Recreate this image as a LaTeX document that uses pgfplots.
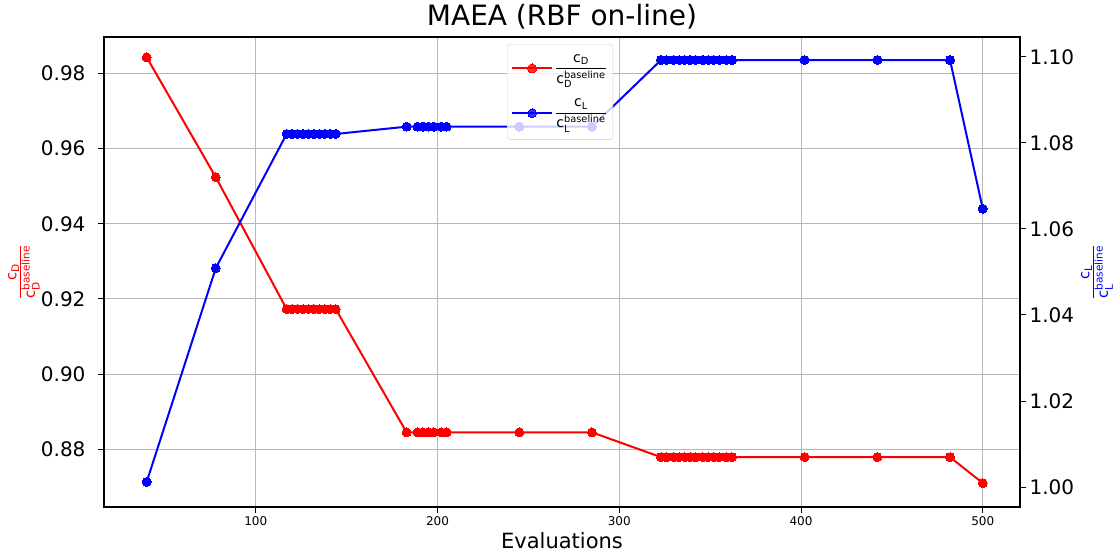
\documentclass[border=0pt]{standalone}
\usepackage{pgfplots}
\pgfplotsset{compat=1.18}
\usepackage{pgfplotstable}
\usepackage{amsmath}
\usepackage{fontspec}
\setmainfont{DejaVu Sans}

\pgfplotstableread{
x y
40 0.9843
78 0.9524
117 0.9173
120 0.9173
123 0.9173
126 0.9173
129 0.9173
132 0.9173
135 0.9173
138 0.9173
141 0.9173
144 0.9173
183 0.8845
189 0.8845
192 0.8845
195 0.8845
198 0.8845
202 0.8845
205 0.8845
245 0.8845
285 0.8845
323 0.8779
326 0.8779
330 0.8779
333 0.8779
336 0.8779
339 0.8779
342 0.8779
346 0.8779
349 0.8779
352 0.8779
355 0.8779
359 0.8779
362 0.8779
402 0.8779
442 0.8779
482 0.8779
500 0.8710
}\cdtable

\pgfplotstableread{
x y
40 1.0012
78 1.0509
117 1.0821
120 1.0821
123 1.0821
126 1.0821
129 1.0821
132 1.0821
135 1.0821
138 1.0821
141 1.0821
144 1.0821
183 1.0838
189 1.0838
192 1.0838
195 1.0838
198 1.0838
202 1.0838
205 1.0838
245 1.0838
285 1.0838
323 1.0993
326 1.0993
330 1.0993
333 1.0993
336 1.0993
339 1.0993
342 1.0993
346 1.0993
349 1.0993
352 1.0993
355 1.0993
359 1.0993
362 1.0993
402 1.0993
442 1.0993
482 1.0993
500 1.0647
}\cltable

\pgfplotsset{
  common/.style={
    width=916pt, height=470pt, scale only axis,
    xmin=16.5, xmax=520.5,
    tick align=outside,
    major tick length=6pt,
    every tick/.style={black, line width=1pt},
    /pgf/number format/assume math mode=true,
    axis line style={line width=1.1pt},
  },
}

\begin{document}
\begin{tikzpicture}
\begin{axis}[
  common,
  ymin=0.86464, ymax=0.9897,
  xtick={100,200,300,400,500},
  ytick={0.88,0.90,0.92,0.94,0.96,0.98},
  yticklabel style={/pgf/number format/fixed, /pgf/number format/fixed zerofill, /pgf/number format/precision=2, font=\fontsize{20}{24}\selectfont, xshift=-9pt},
  xticklabel style={font=\fontsize{12}{14}\selectfont},
  xtick pos=lower, ytick pos=left,
  grid=major,
  major grid style={color=black!28, line width=0.9pt},
  title={MAEA (RBF on-line)},
  title style={at={(axis description cs:0.5,1)}, anchor=base, yshift=5pt, font=\fontsize{28}{33}\selectfont},
  xlabel={Evaluations},
  every axis x label/.style={at={(axis description cs:0.5,0)}, anchor=base, yshift=-41pt, font=\fontsize{21}{25}\selectfont},
  ylabel={$\frac{\text{c}_{\text{D}}}{\text{c}_{\text{D}}^{\text{baseline}}}$},
  every axis y label/.style={at={([xshift=-80pt]axis description cs:0,0.5)}, rotate=90, anchor=center, red, font=\fontsize{21}{25}\selectfont},
]
\addplot[red, line width=2pt, mark=*, mark size=4.5pt, mark options={fill=red, draw=red, line width=0pt}] table[x=x,y=y] {\cdtable};
\end{axis}
\begin{axis}[
  common,
  ymin=0.99535, ymax=1.10465,
  axis x line=none,
  axis y line*=right,
  ytick={1.00,1.02,1.04,1.06,1.08,1.10},
  yticklabel style={/pgf/number format/fixed, /pgf/number format/fixed zerofill, /pgf/number format/precision=2, font=\fontsize{20}{24}\selectfont},
  ylabel={$\frac{\text{c}_{\text{L}}}{\text{c}_{\text{L}}^{\text{baseline}}}$},
  every axis y label/.style={at={([xshift=77pt]axis description cs:1,0.5)}, rotate=90, anchor=center, blue, font=\fontsize{21}{25}\selectfont},
  legend style={at={(0.44,0.985)}, anchor=north west, draw=black!20, rounded corners=3pt, fill=white, fill opacity=0.8, text opacity=1, font=\fontsize{14}{17}\selectfont, row sep=0pt, inner xsep=4pt, inner ysep=3pt, nodes={text depth=, inner sep=2pt}},
  legend cell align=left,
  legend image code/.code={\draw[#1, mark repeat=2, mark phase=2] plot coordinates {(0pt,0pt) (20pt,0pt) (40pt,0pt)};},
]
\addlegendimage{red, line width=2pt, mark=*, mark size=4.5pt, mark options={fill=red, draw=red, line width=0pt}}
\addlegendentry{\rule[-14pt]{0pt}{37pt}$\dfrac{\text{c}_{\text{D}}}{\text{c}_{\text{D}}^{\text{baseline}}}$}
\addplot[blue, line width=2pt, mark=*, mark size=4.5pt, mark options={fill=blue, draw=blue, line width=0pt}] table[x=x,y=y] {\cltable};
\addlegendentry{\rule[-18pt]{0pt}{43pt}$\dfrac{\text{c}_{\text{L}}}{\text{c}_{\text{L}}^{\text{baseline}}}$}
\end{axis}
\pgfresetboundingbox
\path[use as bounding box] (-104pt,-45pt) rectangle (1013pt,507pt);
\end{tikzpicture}
\end{document}
